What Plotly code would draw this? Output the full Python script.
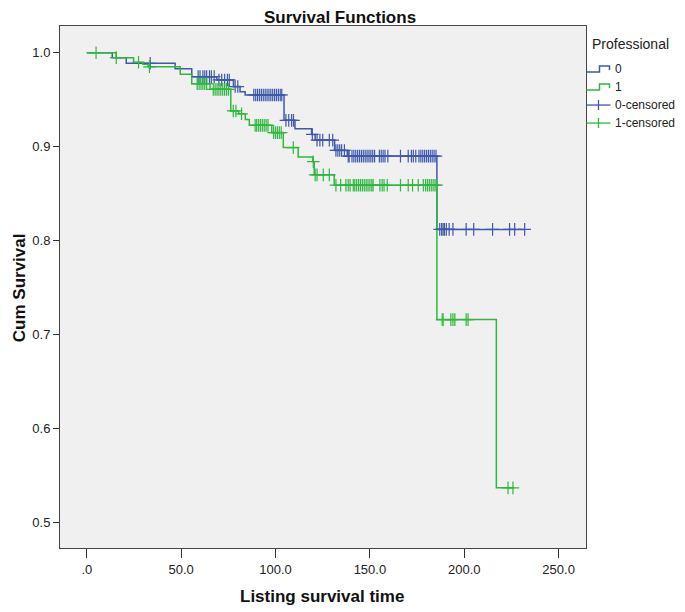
import numpy as np
import plotly.graph_objects as go

# Kaplan-Meier steps: time of each drop and the new survival
times_0 = [0, 13.5, 20.9, 46.8, 55.6, 68.9, 77.7, 81.2, 83.9, 104.5, 110.3,
           119.1, 121.0, 131.3, 138.0, 185.5]
surv_0 = [1.0, 0.9947, 0.9887, 0.983, 0.9745, 0.971, 0.964, 0.9585, 0.955,
          0.928, 0.919, 0.913, 0.907, 0.896, 0.890, 0.812]
end_0 = 232.0

times_1 = [0, 15.6, 24.8, 29.7, 32.5, 49.5, 55.6, 65.3, 76.3, 80.5, 84.0,
           86.1, 98.0, 104.1, 112.0, 119.7, 120.5, 131.1, 185.5, 217.0]
surv_1 = [1.0, 0.9947, 0.9898, 0.9876, 0.985, 0.977, 0.967, 0.961, 0.938,
          0.935, 0.929, 0.9227, 0.915, 0.899, 0.889, 0.884, 0.870, 0.859,
          0.716, 0.537]
end_1 = 225.8

# censored cases
cens_0 = [33.6, 59, 60, 61.5, 62.5, 63.5, 65, 66, 67.5, 70, 71.5, 73, 74.5,
          75.5, 78.6, 80, 88.5, 89.5, 90.5, 91.5, 92.5, 93.5, 94.5, 95.5, 96.5,
          97.5, 98.5, 99.5, 100.5, 101.5, 102.5, 103.3, 105.5, 107, 108.5,
          109.5, 119.5, 122, 123.5, 125, 128.5, 130.3, 132, 133, 134, 135,
          136.5, 138.5, 139, 140.5, 141.5, 142.5, 143.5, 144.5, 145.5, 146.5,
          147.5, 148.5, 149.5, 150.5, 151.5, 152.5, 155, 156, 157, 158, 159.5,
          166.2, 170.3, 172, 173, 174.3, 176, 177, 178, 179, 180, 181, 182,
          183, 184, 185, 187, 188, 188.8, 189.5, 190.5, 192, 194, 201, 205,
          215, 224, 226.7, 232]
cens_1 = [4.9, 15.6, 27.4, 33.2, 58.5, 59.5, 60.5, 61.5, 62.5, 63.5, 67, 68,
          69, 70, 71, 72, 73, 74, 75, 77.6, 79, 82, 89.2, 90, 91, 92, 93, 94,
          95, 96, 99, 100, 101, 102, 103, 109.4, 120, 121, 122, 125.3, 128.5,
          132, 134.5, 137.3, 138.5, 139.5, 141.2, 142, 143, 144, 145, 146, 147,
          148, 149, 150, 151, 151.7, 155.3, 156.5, 157.5, 159.2, 166.2, 170.3,
          172.6, 175.6, 178.3, 179.5, 180.5, 181.5, 182.5, 183.5, 184.5, 185.3,
          188.3, 188.8, 192.9, 194, 195, 201, 202, 223.2, 225.8]

x_ticks = [0, 50, 100, 150, 200, 250]
x_labels = ['.0', '50.0', '100.0', '150.0', '200.0', '250.0']
y_ticks = [0.5, 0.6, 0.7, 0.8, 0.9, 1.0]

legend_title = 'Professional'
legend_names = ['0', '1', '0-censored', '1-censored']

blue = 'rgb(62,88,172)'
green = 'rgb(46,184,62)'

# page has an 8px body margin: the figure starts at (8, 8) on screen
OFF = 8
W, H = 685, 612
L, T = 60 - OFF, 26 - OFF
R, B = W - (586.5 - OFF), H - (547.7 - OFF)


def level_at(times, surv, t):
    idx = np.searchsorted(np.array(times), np.array(t), side='right') - 1
    return np.array(surv)[idx]


# screen pixel -> paper coords (for legend and axis titles)
def px(x):
    return (x - OFF - L) / (W - L - R)


def py(y):
    return (H - B - (y - OFF)) / (H - T - B)


fig = go.Figure()

groups = [('0', times_0, surv_0, end_0, cens_0, blue),
          ('1', times_1, surv_1, end_1, cens_1, green)]

for name, t, s, end, c, color in groups:
    fig.add_trace(go.Scatter(
        x=t + [end], y=s + [s[-1]], mode='lines', name=name,
        line=dict(color=color, width=1.5, shape='hv')))

for name, t, s, end, c, color in groups:
    fig.add_trace(go.Scatter(
        x=c, y=level_at(t, s, c), mode='markers', name=name + '-censored',
        marker=dict(symbol='cross-thin', size=9, color=color,
                    line=dict(color=color, width=1.2))))

shapes, annots = [], []

# title and axis titles
annots.append(dict(text='<b>Survival Functions</b>', x=px(340), y=py(18),
                   xref='paper', yref='paper', xanchor='center', yanchor='middle',
                   showarrow=False, font=dict(size=17, color='#111')))
annots.append(dict(text='<b>Listing survival time</b>', x=px(322), y=py(596),
                   xref='paper', yref='paper', xanchor='center', yanchor='middle',
                   showarrow=False, font=dict(size=17, color='#111')))
annots.append(dict(text='<b>Cum Survival</b>', x=px(19), y=py(288), textangle=-90,
                   xref='paper', yref='paper', xanchor='center', yanchor='middle',
                   showarrow=False, font=dict(size=17, color='#111')))

# legend
annots.append(dict(text=legend_title, x=px(591), y=py(44), xref='paper', yref='paper',
                   xanchor='left', yanchor='middle', showarrow=False,
                   font=dict(size=14, color='#222')))
rows = [69, 87, 105, 123]
colors = [blue, green, blue, green]
for i, (name, row, color) in enumerate(zip(legend_names, rows, colors)):
    annots.append(dict(text=name, x=px(614), y=py(row), xref='paper', yref='paper',
                       xanchor='left', yanchor='middle', showarrow=False,
                       font=dict(size=12, color='#222')))
    if i < 2:
        path = 'M {} {} L {} {} L {} {} L {} {} L {} {}'.format(
            px(587), py(row + 3), px(600), py(row + 3), px(600), py(row - 3),
            px(610), py(row - 3), px(610), py(row + 1))
        shapes.append(dict(type='path', path=path, xref='paper', yref='paper',
                           line=dict(color=color, width=1.5)))
    else:
        shapes.append(dict(type='line', x0=px(587), x1=px(611), y0=py(row), y1=py(row),
                           xref='paper', yref='paper', line=dict(color=color, width=1.3)))
        shapes.append(dict(type='line', x0=px(599), x1=px(599), y0=py(row - 5),
                           y1=py(row + 5), xref='paper', yref='paper',
                           line=dict(color=color, width=1.3)))

fig.update_layout(
    width=W, height=H,
    margin=dict(l=L, r=R, t=T, b=B, autoexpand=False),
    paper_bgcolor='white', plot_bgcolor='#f0f0f0',
    font=dict(family='Liberation Sans, Arial, sans-serif', size=13, color='#222'),
    showlegend=False,
    shapes=shapes,
    annotations=annots,
)

fig.update_xaxes(
    range=[-14.2, 264.5], tickvals=x_ticks, ticktext=x_labels,
    ticks='outside', ticklen=9, tickcolor='#333', showgrid=False,
    zeroline=False, showline=True, linecolor='#444', linewidth=1, mirror=True,
    automargin=False)

fig.update_yaxes(
    range=[0.473, 1.0284], tickvals=y_ticks, tickformat='.1f',
    ticks='outside', ticklen=6, tickcolor='#333', showgrid=False,
    zeroline=False, showline=True, linecolor='#444', linewidth=1, mirror=True,
    automargin=False)

fig.write_html('out.html')
